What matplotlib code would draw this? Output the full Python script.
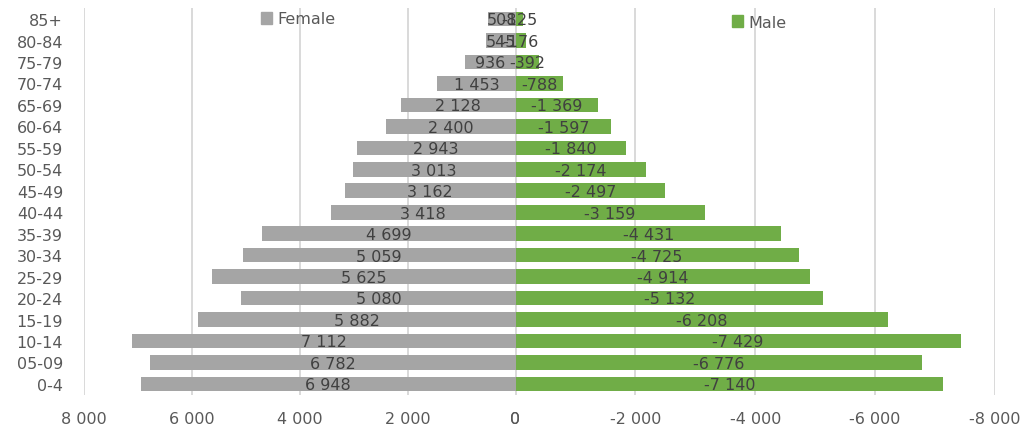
import matplotlib
matplotlib.use("Agg")
import matplotlib.pyplot as plt
from matplotlib.ticker import FuncFormatter
from matplotlib.patches import Patch

age_groups = ["0-4", "05-09", "10-14", "15-19", "20-24", "25-29", "30-34", "35-39",
              "40-44", "45-49", "50-54", "55-59", "60-64", "65-69", "70-74",
              "75-79", "80-84", "85+"]
female = [6948, 6782, 7112, 5882, 5080, 5625, 5059, 4699, 3418, 3162, 3013,
          2943, 2400, 2128, 1453, 936, 545, 508]
male = [-7140, -6776, -7429, -6208, -5132, -4914, -4725, -4431, -3159, -2497,
        -2174, -1840, -1597, -1369, -788, -392, -176, -125]
female_ticks = [8000, 6000, 4000, 2000, 0]
male_ticks = [0, -2000, -4000, -6000, -8000]

GREY = "#A5A5A5"
GREEN = "#70AD47"
GRID = "#D9D9D9"
TICK_TXT = "#595959"
LABEL_TXT = "#404040"
FS = 11.5

plt.rcParams["font.family"] = ["DejaVu Sans"]


def fmt(v, pos=None):
    v = int(round(v))
    s = f"{abs(v):,}".replace(",", " ")
    return ("-" if v < 0 else "") + s


W, H = 1028, 427
fig = plt.figure(figsize=(W / 100, H / 100), dpi=100)
top, bottom = 9.3, 395.7
x0, xmid, x1 = 84, 515.5, 995
axL = fig.add_axes([x0 / W, 1 - bottom / H, (xmid - x0) / W, (bottom - top) / H])
axR = fig.add_axes([xmid / W, 1 - bottom / H, (x1 - xmid) / W, (bottom - top) / H],
                   sharey=axL)

ypos = list(range(len(age_groups)))
bar_h = 0.68

axL.barh(ypos, female, height=bar_h, color=GREY, zorder=2)
axR.barh(ypos, male, height=bar_h, color=GREEN, zorder=2)

axL.set_xlim(8000, 0)
axR.set_xlim(0, -8000)
axL.set_ylim(-0.5, len(age_groups) - 0.5)

for ax, ticks in ((axL, female_ticks), (axR, male_ticks)):
    ax.set_xticks(ticks)
    ax.xaxis.set_major_formatter(FuncFormatter(fmt))
    ax.grid(axis="x", color=GRID, linewidth=1.4, zorder=0)
    ax.set_axisbelow(True)
    for sp in ax.spines.values():
        sp.set_visible(False)
    ax.tick_params(axis="x", length=0, pad=12, labelsize=FS, labelcolor=TICK_TXT)
    ax.patch.set_alpha(0)

axL.set_yticks(ypos)
axL.set_yticklabels(age_groups)
axL.tick_params(axis="y", length=0, pad=15, labelsize=FS, labelcolor=TICK_TXT)
axR.tick_params(axis="y", left=False, labelleft=False)

for y, v in zip(ypos, female):
    axL.text(v / 2, y - 0.04, fmt(v), ha="center", va="center", fontsize=FS,
             color=LABEL_TXT, zorder=3)
for y, v in zip(ypos, male):
    axR.text(v / 2, y - 0.04, fmt(v), ha="center", va="center", fontsize=FS,
             color=LABEL_TXT, zorder=3)

fig.legend(handles=[Patch(color=GREY, label="Female")], loc="center left",
           bbox_to_anchor=(261 / W, 1 - 20 / H), frameon=False, fontsize=FS,
           labelcolor=TICK_TXT, handlelength=0.7, handleheight=0.7,
           handletextpad=0.35, borderpad=0, borderaxespad=0)
fig.legend(handles=[Patch(color=GREEN, label="Male")], loc="center left",
           bbox_to_anchor=(732 / W, 1 - 23 / H), frameon=False, fontsize=FS,
           labelcolor=TICK_TXT, handlelength=0.7, handleheight=0.7,
           handletextpad=0.35, borderpad=0, borderaxespad=0)

fig.savefig("out.png", dpi=100)
